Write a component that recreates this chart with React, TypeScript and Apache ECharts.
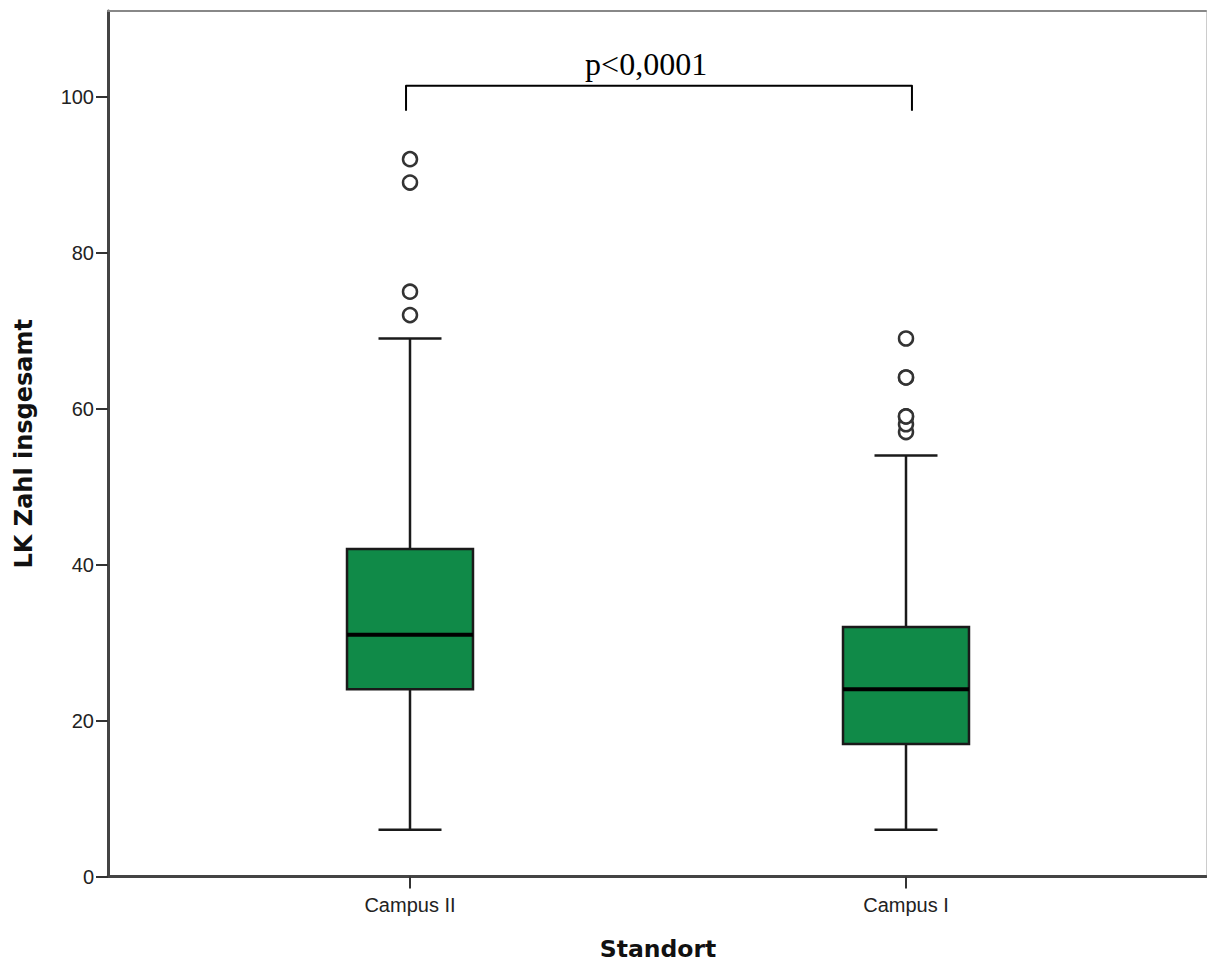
import React, { useEffect, useRef } from "react";
import * as echarts from "echarts";

const categories = ["Campus II", "Campus I"];
const whiskerLow = [6, 6];
const q1 = [24, 17];
const median = [31, 24];
const q3 = [42, 32];
const whiskerHigh = [69, 54];
const outliersCampusII = [72, 75, 89, 92];
const outliersCampusI = [57, 58, 59, 59, 64, 64, 69];
const yTicks = [0, 20, 40, 60, 80, 100];
const yMin = 0;
const yMax = 111;
const pLabel = "p<0,0001";
// bracket ends / label position as fractions between the two category centres
const bracketStart = -0.008;
const bracketEnd = 1.012;
const pLabelFrac = 0.476;
const bracketY = 101.4;
const bracketEndY = 98.2;
const pLabelY = 104.2;

export default function App() {
  const ref = useRef<HTMLDivElement>(null);
  useEffect(() => {
    if (!ref.current) return;
    const chart = echarts.init(ref.current, null, { renderer: "svg" });
    const boxData = categories.map((_, i) => [i, whiskerLow[i], q1[i], median[i], q3[i], whiskerHigh[i]]);
    const outlierData: any[] = [];
    outliersCampusII.forEach((v) => outlierData.push([0, v]));
    outliersCampusI.forEach((v) => outlierData.push([1, v]));
    const lineColor = "#1a1a1a";
    chart.setOption({
      animation: false,
      grid: [
        { left: 108, right: 1, top: 11, bottom: 90.5 },
        { left: 162, right: 53, top: 11, bottom: 90.5 },
      ],
      xAxis: [
        {
          type: "value", gridIndex: 0, position: "bottom", min: 0, max: 1,
          axisLine: { show: true, onZero: false, lineStyle: { color: "#444", width: 3 } },
          axisTick: { show: false }, axisLabel: { show: false }, splitLine: { show: false },
        },
        {
          type: "value", gridIndex: 0, position: "top", min: 0, max: 1,
          axisLine: { show: true, onZero: false, lineStyle: { color: "#888", width: 2 } },
          axisTick: { show: false }, axisLabel: { show: false }, splitLine: { show: false },
        },
        {
          type: "category", gridIndex: 1, data: categories, boundaryGap: true,
          axisLine: { show: false },
          axisTick: { show: true, alignWithLabel: true, length: 12, lineStyle: { color: "#333", width: 2 } },
          axisLabel: { color: "#222", fontFamily: "Liberation Sans, Arial", fontSize: 20, margin: 18 },
          name: "Standort", nameLocation: "middle", nameGap: 60,
          nameTextStyle: { color: "#111", fontFamily: "DejaVu Sans", fontWeight: "bold", fontSize: 23.5 },
        },
      ],
      yAxis: [
        {
          type: "value", gridIndex: 0, position: "left", min: yMin, max: yMax,
          axisLine: { show: true, onZero: false, lineStyle: { color: "#444", width: 3 } },
          axisTick: { show: true, length: 12, customValues: yTicks, lineStyle: { color: "#333", width: 2 } },
          axisLabel: { color: "#222", fontFamily: "Liberation Sans, Arial", fontSize: 20, margin: 14, customValues: yTicks },
          splitLine: { show: false },
          name: "LK Zahl insgesamt", nameLocation: "middle", nameGap: 72,
          nameTextStyle: { color: "#111", fontFamily: "DejaVu Sans", fontWeight: "bold", fontSize: 24 },
        },
        {
          type: "value", gridIndex: 0, position: "right", min: yMin, max: yMax,
          axisLine: { show: true, onZero: false, lineStyle: { color: "#ccc", width: 1 } },
          axisTick: { show: false }, axisLabel: { show: false }, splitLine: { show: false },
        },
        {
          type: "value", gridIndex: 1, min: yMin, max: yMax, show: false,
          splitLine: { show: false },
        },
      ],
      series: [
        {
          type: "custom",
          xAxisIndex: 2,
          yAxisIndex: 2,
          data: boxData,
          encode: { x: 0, y: [1, 2, 3, 4, 5] },
          renderItem: (params: any, api: any) => {
            const idx = api.value(0);
            const pLo = api.coord([idx, api.value(1)]);
            const pQ1 = api.coord([idx, api.value(2)]);
            const pMed = api.coord([idx, api.value(3)]);
            const pQ3 = api.coord([idx, api.value(4)]);
            const pHi = api.coord([idx, api.value(5)]);
            const band = api.size([1, 0])[0];
            const bw = band * 0.254;
            const cx = pLo[0];
            const ls = { stroke: lineColor, lineWidth: 2.5 };
            return {
              type: "group",
              children: [
                { type: "line", shape: { x1: cx, y1: pLo[1], x2: cx, y2: pQ1[1] }, style: ls },
                { type: "line", shape: { x1: cx, y1: pQ3[1], x2: cx, y2: pHi[1] }, style: ls },
                { type: "line", shape: { x1: cx - bw / 4, y1: pLo[1], x2: cx + bw / 4, y2: pLo[1] }, style: ls },
                { type: "line", shape: { x1: cx - bw / 4, y1: pHi[1], x2: cx + bw / 4, y2: pHi[1] }, style: ls },
                {
                  type: "rect",
                  shape: { x: cx - bw / 2, y: pQ3[1], width: bw, height: pQ1[1] - pQ3[1] },
                  style: { fill: "#108a48", stroke: lineColor, lineWidth: 2.5 },
                },
                { type: "line", shape: { x1: cx - bw / 2, y1: pMed[1], x2: cx + bw / 2, y2: pMed[1] }, style: { stroke: "#000", lineWidth: 4 } },
              ],
            };
          },
          z: 2,
        },
        {
          type: "scatter",
          xAxisIndex: 2,
          yAxisIndex: 2,
          data: outlierData,
          symbol: "circle",
          symbolSize: 14,
          itemStyle: { color: "#fff", borderColor: "#333", borderWidth: 2.5, opacity: 1 },
          z: 3,
        },
        {
          type: "custom",
          xAxisIndex: 2,
          yAxisIndex: 2,
          data: [[0, 1, bracketY, bracketEndY, pLabelY]],
          encode: { x: [0, 1], y: [2, 3, 4] },
          renderItem: (params: any, api: any) => {
            const c0 = api.coord([api.value(0), api.value(2)]);
            const c1 = api.coord([api.value(1), api.value(2)]);
            const span = c1[0] - c0[0];
            const xAt = (f: number) => c0[0] + f * span;
            const topY = c0[1];
            const endY = api.coord([0, api.value(3)])[1];
            const tY = api.coord([0, api.value(4)])[1];
            const xa = xAt(bracketStart);
            const xb = xAt(bracketEnd);
            return {
              type: "group",
              children: [
                {
                  type: "polyline",
                  shape: { points: [[xa, endY], [xa, topY], [xb, topY], [xb, endY]] },
                  style: { stroke: "#000", lineWidth: 2, fill: "none", lineJoin: "round" },
                },
                {
                  type: "text",
                  x: xAt(pLabelFrac),
                  y: tY,
                  style: {
                    text: pLabel, fill: "#000", fontFamily: "Liberation Serif, Times New Roman",
                    fontSize: 32, align: "center", verticalAlign: "middle",
                  },
                },
              ],
            };
          },
        },
      ],
    });
    return () => chart.dispose();
  }, []);
  return <div ref={ref} style={{ position: "absolute", left: 0, top: 0, width: 1207, height: 967, background: "#fff" }} />;
}
